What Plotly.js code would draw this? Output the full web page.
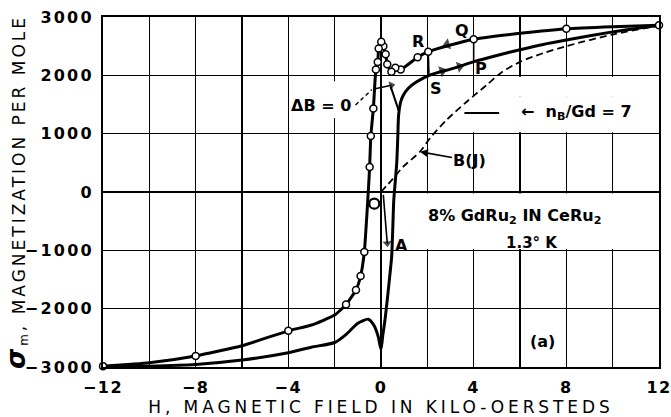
<!DOCTYPE html>
<html>
<head>
<meta charset="utf-8">
<script src="https://cdn.plot.ly/plotly-3.0.1.min.js"></script>
<style>html,body{margin:0;padding:0;background:#fff}</style>
</head>
<body>
<div id="chart" style="width:671px;height:417px"></div>
<script>
// Field H in kilo-oersteds, magnetization sigma_m per mole.

// Decreasing-field branch: drawn curve
const descLineH = [12, 10, 8, 6, 4, 3, 2.04, 1.58, 0.85, 0.62, 0.45, 0.27, 0.20, 0.10, 0.01, -0.10, -0.14, -0.22, -0.33, -0.44, -0.49, -0.55, -0.63, -0.72, -0.88, -1.08, -1.51, -2, -3, -4, -6, -8, -10, -12];
const descLineM = [2860, 2835, 2800, 2720, 2620, 2520, 2405, 2310, 2100, 2130, 2060, 2190, 2360, 2500, 2575, 2460, 2230, 2100, 1430, 960, 430, 0, -520, -1030, -1440, -1680, -1930, -2110, -2280, -2380, -2635, -2810, -2926, -2985];

// Decreasing-field branch: measured points (open circles)
const descPtH = [12, 8, 4, 2.04, 1.58, 0.85, 0.62, 0.45, 0.27, 0.20, 0.10, 0.01, -0.10, -0.14, -0.22, -0.33, -0.44, -0.49, -0.72, -0.88, -1.08, -1.51, -4, -8, -12];
const descPtM = [2860, 2800, 2620, 2405, 2310, 2100, 2130, 2060, 2190, 2360, 2500, 2575, 2460, 2230, 2100, 1430, 960, 430, -1030, -1440, -1680, -1930, -2380, -2810, -2985];

// Increasing-field branch
const ascH = [-12, -10, -8, -6, -4, -3, -2, -1.5, -1, -0.55, -0.3, -0.12, 0, 0.08, 0.17, 0.27, 0.39, 0.46, 0.51, 0.55, 0.62, 0.68, 0.72, 0.76, 0.84, 0.95, 1.18, 1.54, 2.11, 3.12, 4.02, 5, 6, 7, 8, 10, 12];
const ascM = [-3000, -2985, -2955, -2880, -2755, -2660, -2580, -2440, -2250, -2180, -2290, -2480, -2700, -2450, -2200, -1850, -1390, -1110, -600, -150, 200, 500, 890, 1320, 1530, 1650, 1780, 1890, 2005, 2120, 2235, 2340, 2440, 2530, 2605, 2745, 2860];

// Brillouin function B(J)
const bjH = [0, 0.5, 0.96, 1.68, 2.11, 2.83, 3.7, 4.56, 5.2, 6, 7, 8, 10, 12];
const bjM = [0, 220, 434, 690, 920, 1234, 1548, 1834, 2050, 2230, 2380, 2500, 2700, 2850];

// Jumps between branches: R -> S, Q -> P, O -> A, and the Delta B = 0 segment
const jumpRSH = [2.04, 2.07]; const jumpRSM = [2405, 2005];
const jumpQPH = [4.0, 4.0];   const jumpQPM = [2620, 2235];
const jumpOAH = [0.1, 0.27];  const jumpOAM = [-50, -880];
const dBzeroH = [0.42, 0.76]; const dBzeroM = [1806, 1400];

// Delta B = 0 leader: dashed part, then the arrow into the curve
const dBleadH = [-1.1, -0.4];   const dBleadM = [1490, 1755];
const dBarrowH = [-0.25, 0.45]; const dBarrowM = [1770, 1830];

// Direction marks along the branches (tail, head)
const dirUpperH = [3.3, 2.85]; const dirUpperM = [2580, 2528];
const dirLowerH = [2.9, 3.4];  const dirLowerM = [2095, 2150];
const dirLower2H = [2.25, 2.65]; const dirLower2M = [2025, 2075];

// Level bar for n_B/Gd = 7
const levelH = [3.6, 5.1]; const levelM = [1354, 1354];

// Starting point O
const originH = [-0.29]; const originM = [-200];

const FONT = 'DejaVu Sans';
const thick = {color: '#000', width: 3};
const thin = {color: '#000', width: 1.6};
const headAtEnd = {symbol: 'triangle-up', angleref: 'previous', size: [0, 8], color: '#000', line: {width: 0}};

const lineTrace = (x, y, line, extra) => Object.assign({x: x, y: y, mode: 'lines', line: line, hoverinfo: 'skip'}, extra || {});
const dirTrace = (x, y) => ({x: x, y: y, mode: 'markers', cliponaxis: false, hoverinfo: 'skip',
  marker: {symbol: 'triangle-up', angleref: 'previous', size: [0, 10], color: '#000', line: {width: 0}}});

const traces = [
  lineTrace(bjH, bjM, {color: '#000', width: 1.8, dash: '7px,4px', shape: 'spline', smoothing: 0.8}),
  lineTrace(ascH, ascM, Object.assign({shape: 'spline', smoothing: 0.6}, thick)),
  lineTrace(descLineH, descLineM, Object.assign({shape: 'spline', smoothing: 0.5}, thick)),
  lineTrace(jumpRSH, jumpRSM, thin),
  lineTrace(jumpQPH, jumpQPM, thin),
  lineTrace(jumpOAH, jumpOAM, thin, {mode: 'lines+markers', marker: headAtEnd}),
  lineTrace(dBzeroH, dBzeroM, {color: '#000', width: 2}),
  lineTrace(dBleadH, dBleadM, {color: '#000', width: 1.4, dash: '4px,3px'}),
  lineTrace(dBarrowH, dBarrowM, {color: '#000', width: 1.5}, {mode: 'lines+markers', marker: headAtEnd}),
  lineTrace(levelH, levelM, {color: '#000', width: 2}),
  dirTrace(dirUpperH, dirUpperM),
  dirTrace(dirLowerH, dirLowerM),
  dirTrace(dirLower2H, dirLower2M),
  {x: descPtH, y: descPtM, mode: 'markers', cliponaxis: false,
   marker: {symbol: 'circle', size: 7, color: '#fff', line: {color: '#000', width: 1.5}}, hoverinfo: 'skip'},
  {x: originH, y: originM, mode: 'markers', cliponaxis: false,
   marker: {symbol: 'circle', size: 10, color: 'rgba(0,0,0,0)', line: {color: '#000', width: 2.2}}, hoverinfo: 'skip'}
];

const lbl = (text, x, y, size) => ({text: text, x: x, y: y, xref: 'x', yref: 'y', showarrow: false,
  font: {family: FONT, size: size || 16, color: '#000', weight: 'bold'}});

const annotations = [
  lbl('R', 1.61, 2577), lbl('Q', 3.48, 2777), lbl('P', 4.30, 2120), lbl('S', 2.37, 1778), lbl('A', 0.89, -909),
  lbl('ΔB = 0', -2.59, 1491, 16),
  lbl('←  n<sub>B</sub>/Gd = 7', 8.42, 1371, 16),
  lbl('8% GdRu<sub>2</sub> IN CeRu<sub>2</sub>', 5.78, -423, 16),
  lbl('1.3° K', 6.52, -874, 15),
  lbl('(a)', 6.95, -2571, 16),
  {text: 'B(J)', x: 1.68, y: 690, xref: 'x', yref: 'y', showarrow: true, ax: 50, ay: 9,
   arrowhead: 2, arrowsize: 1, arrowwidth: 1.6, arrowcolor: '#000', standoff: 0,
   font: {family: FONT, size: 16, color: '#000', weight: 'bold'}}
];

const shapes = [
  // white label panels over the grid
  {type: 'rect', layer: 'between', xref: 'x', yref: 'y', x0: 3.9, x1: 11.96, y0: 1025, y1: 1640, fillcolor: '#fff', line: {width: 0}},
  {type: 'rect', layer: 'between', xref: 'x', yref: 'y', x0: 4.1, x1: 11.96, y0: 1640, y1: 1975, fillcolor: '#fff', line: {width: 0}},
  {type: 'rect', layer: 'between', xref: 'x', yref: 'y', x0: 1.0, x1: 11.96, y0: -975, y1: -25, fillcolor: '#fff', line: {width: 0}},
  {type: 'rect', layer: 'between', xref: 'x', yref: 'y', x0: -3.7, x1: -1.3, y0: 1270, y1: 1900, fillcolor: '#fff', line: {width: 0}}
];

const axisCommon = {
  ticks: '', showgrid: true, gridcolor: '#000', gridwidth: 1.4, zeroline: false,
  showline: true, mirror: true, linecolor: '#000', linewidth: 2,
  tickfont: {family: FONT, size: 16, color: '#000', weight: 'bold'}
};

const layout = {
  width: 671, height: 417,
  margin: {l: 103, r: 12, t: 17, b: 50},
  paper_bgcolor: '#fff', plot_bgcolor: '#fff',
  showlegend: false,
  xaxis: Object.assign({}, axisCommon, {
    range: [-12, 12], tick0: 0, dtick: 4, ticklabelstandoff: 5,
    minor: {dtick: 2, showgrid: true, gridcolor: '#000', gridwidth: 1.4, ticks: ''},
    title: {text: 'H, MAGNETIC FIELD IN KILO-OERSTEDS', standoff: 4,
            font: {family: FONT, size: 17, color: '#000'}}
  }),
  yaxis: Object.assign({}, axisCommon, {
    range: [-3000, 3000], tick0: 0, dtick: 1000, ticklabelstandoff: 4,
    title: {text: '<b><i><span style="font-size:26px">σ</span></i></b><sub>m</sub>, MAGNETIZATION PER MOLE', standoff: 6,
            font: {family: FONT, size: 17, color: '#000'}}
  }),
  annotations: annotations,
  shapes: shapes
};

Plotly.newPlot('chart', traces, layout, {staticPlot: true, displayModeBar: false}).then(function (gd) {
  gd.querySelectorAll('.xtitle').forEach(function (t) { t.style.letterSpacing = '3.9px'; });
  gd.querySelectorAll('.ytitle').forEach(function (t) { t.style.letterSpacing = '3px'; });
  gd.querySelectorAll('.xtick text').forEach(function (t) { t.style.letterSpacing = '1.5px'; });
  gd.querySelectorAll('.ytick text').forEach(function (t) { t.style.letterSpacing = '2.2px'; });
});
</script>
</body>
</html>
